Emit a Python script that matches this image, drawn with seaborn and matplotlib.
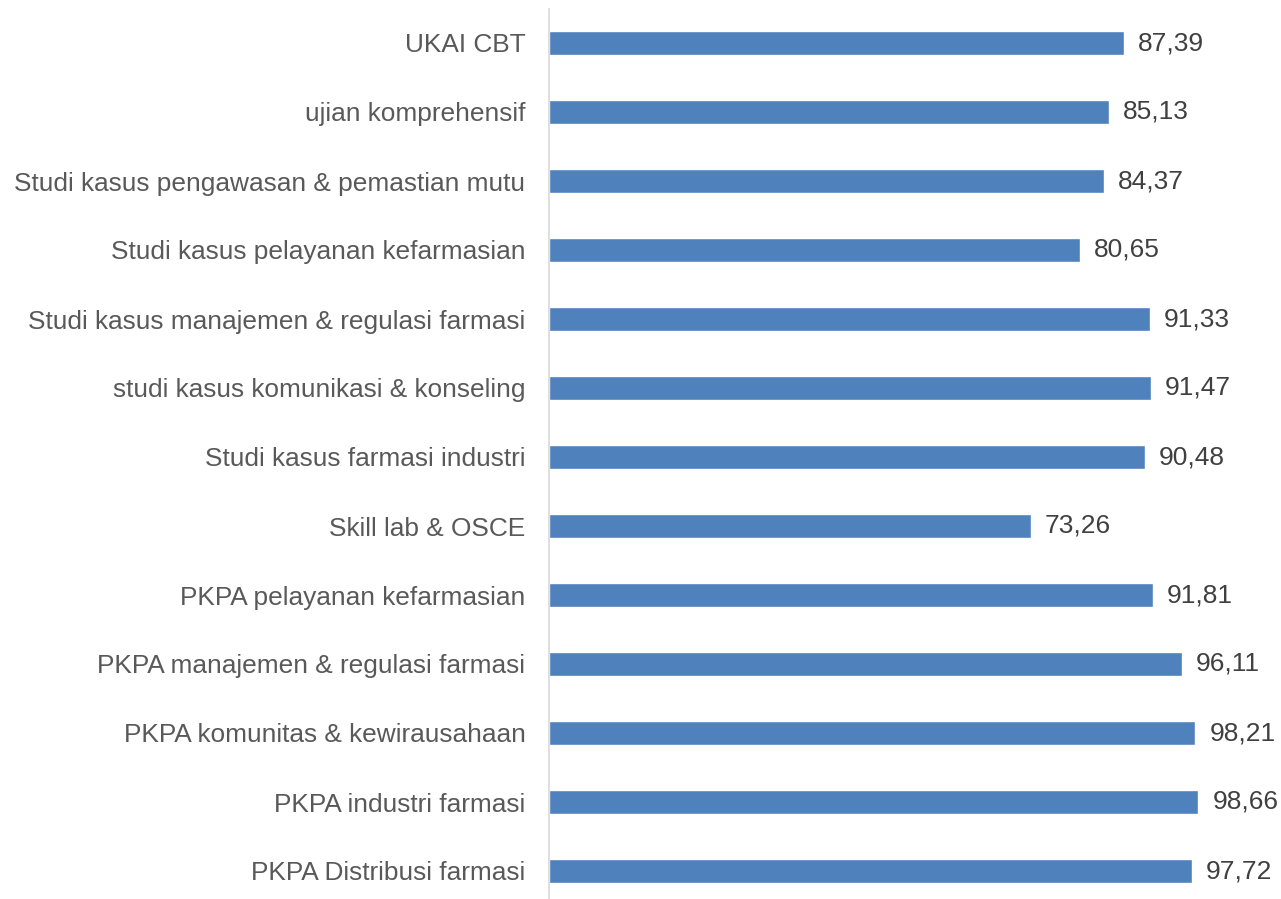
import matplotlib
matplotlib.use("Agg")
import matplotlib.pyplot as plt
import seaborn as sns
import pandas as pd

categories = [
    "UKAI CBT",
    "ujian komprehensif",
    "Studi kasus pengawasan & pemastian mutu",
    "Studi kasus pelayanan kefarmasian",
    "Studi kasus manajemen & regulasi farmasi",
    "studi kasus komunikasi & konseling",
    "Studi kasus farmasi industri",
    "Skill lab & OSCE",
    "PKPA pelayanan kefarmasian",
    "PKPA manajemen & regulasi farmasi",
    "PKPA komunitas & kewirausahaan",
    "PKPA industri farmasi",
    "PKPA Distribusi farmasi",
]
values = [87.39, 85.13, 84.37, 80.65, 91.33, 91.47, 90.48, 73.26, 91.81, 96.11, 98.21, 98.66, 97.72]

df = pd.DataFrame({"cat": categories, "val": values})

sns.set_theme(style="white")
plt.rcParams["font.family"] = ["Liberation Sans", "DejaVu Sans"]

fig = plt.figure(figsize=(12.81, 8.99), dpi=100)
ax = fig.add_axes([549 / 1281, 1 - 905.5 / 899, (1281 - 549) / 1281, (905.5 - 8.5) / 899])

sns.barplot(data=df, y="cat", x="val", orient="h", color="#4F81BD", saturation=1,
            width=0.35, ax=ax, order=categories)

ax.set_xlim(0, 111.2)
ax.set_ylim(len(categories) - 0.5, -0.5)
ax.set_xlabel("")
ax.set_ylabel("")
ax.set_xticks([])
for s in ["top", "right", "bottom"]:
    ax.spines[s].set_visible(False)
ax.spines["left"].set_color("#D9D9D9")
ax.spines["left"].set_linewidth(1.2)
ax.tick_params(axis="y", length=0, pad=17, labelsize=18.9, labelcolor="#595959")

for i, v in enumerate(values):
    ax.text(v + 2.1, i, f"{v:.2f}".replace(".", ","), va="center", ha="left",
            fontsize=19, color="#404040")

fig.savefig("out.png", dpi=100)
